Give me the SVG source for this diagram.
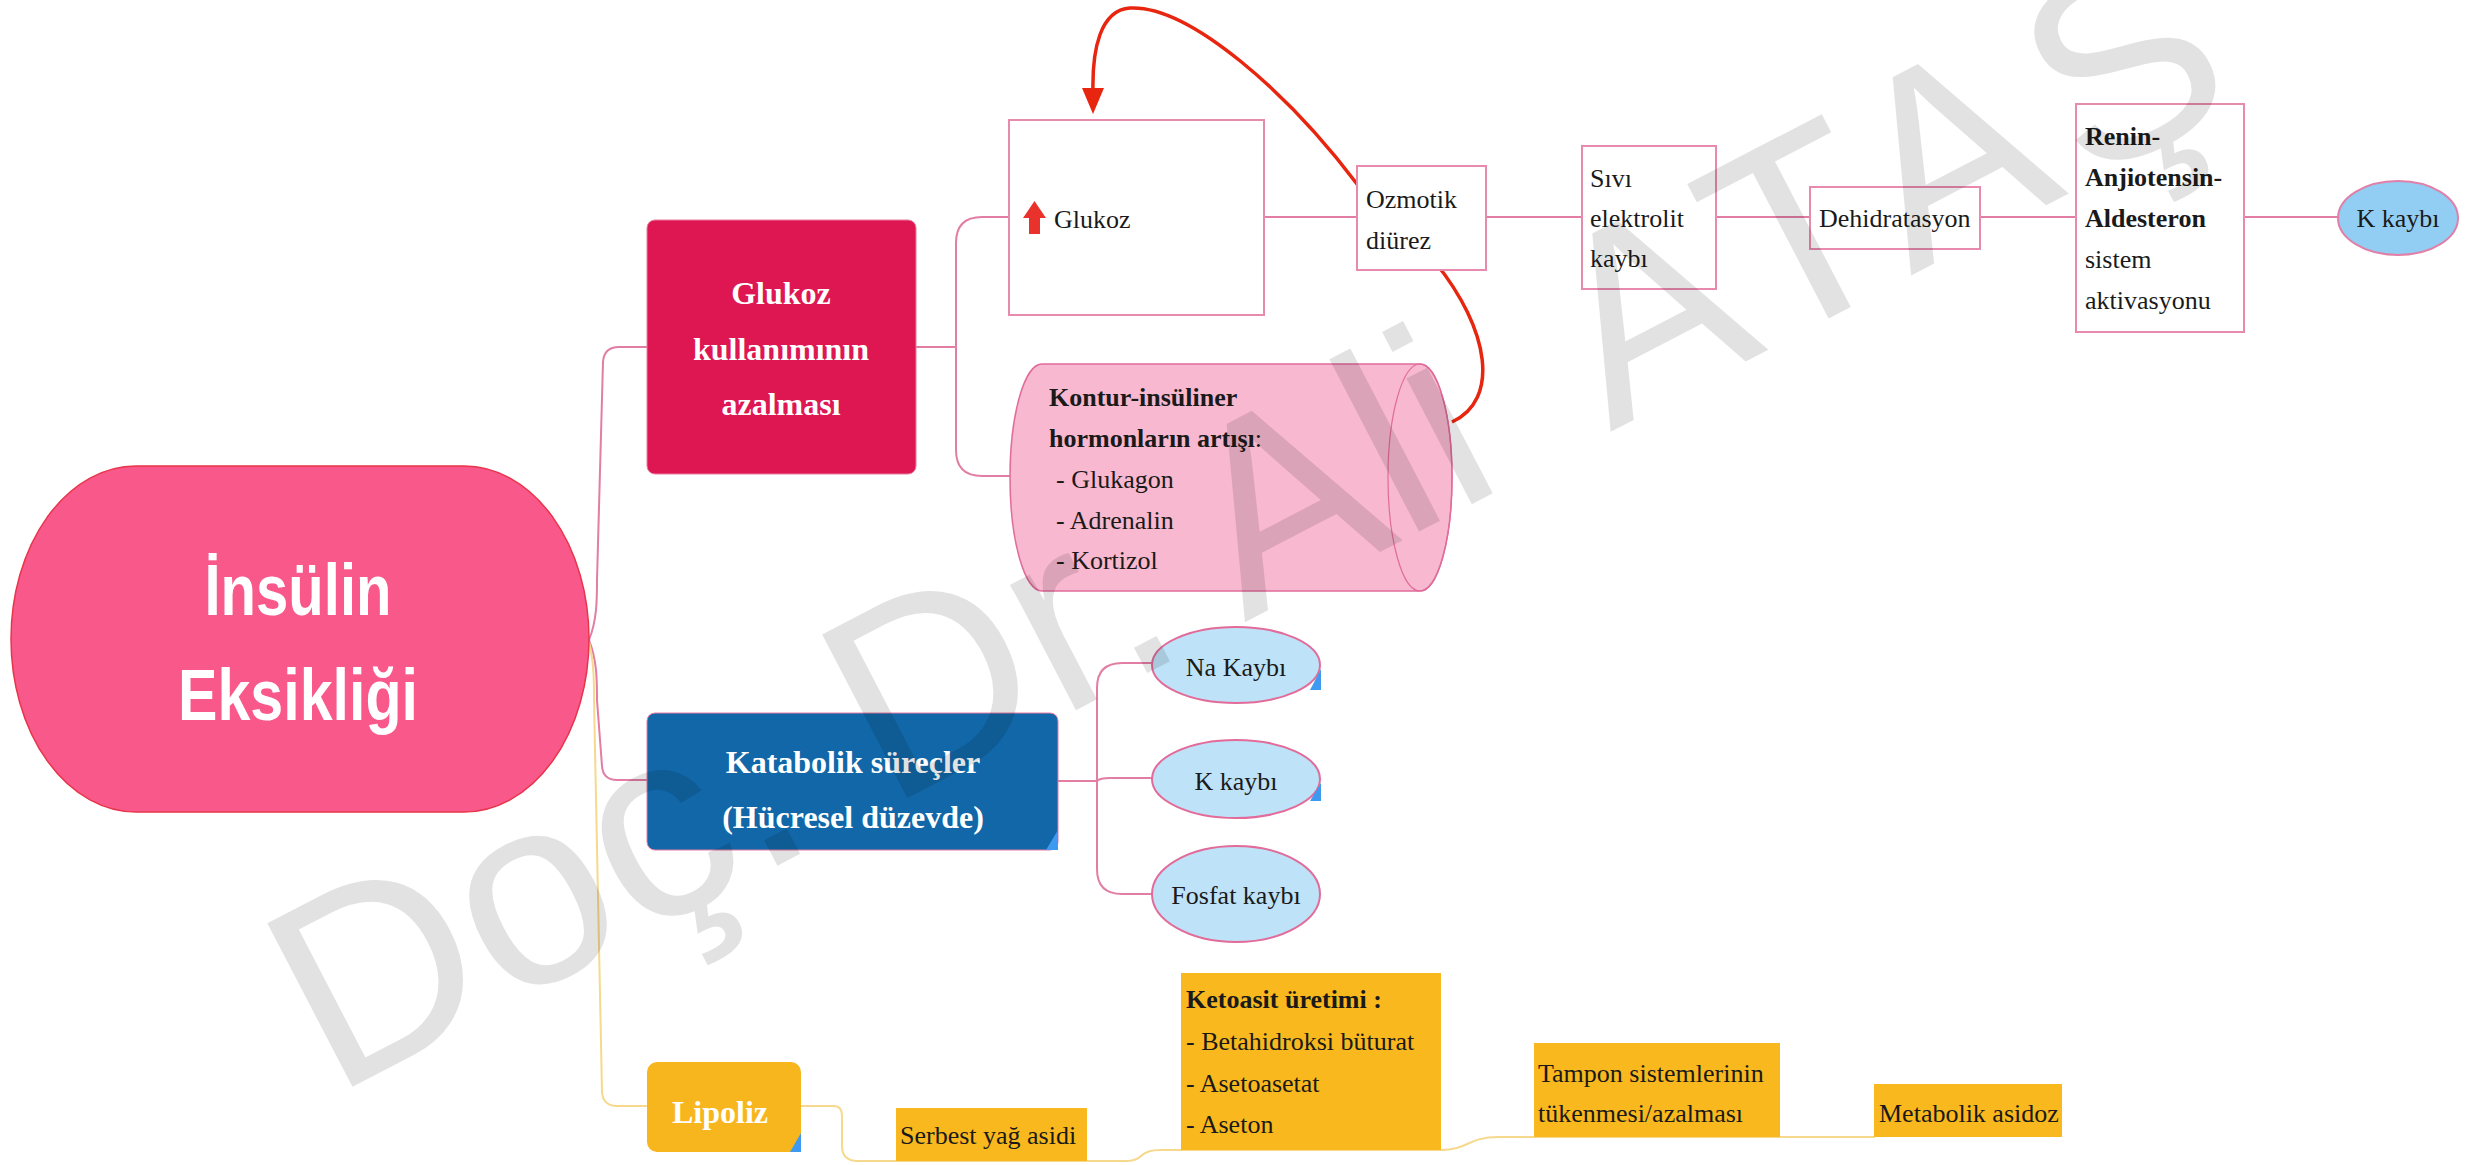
<svg xmlns="http://www.w3.org/2000/svg" width="2469" height="1165" viewBox="0 0 2469 1165">
<style>
.t{font-family:"Liberation Serif","Times New Roman",serif;font-size:26px;fill:#1a1a1a}
.b{font-weight:bold}
.w{fill:#ffffff;font-weight:bold}
.box{fill:#ffffff;stroke:#E889AE;stroke-width:2}
.pk{fill:none;stroke:#E27DA4;stroke-width:2}
.yl{fill:none;stroke:#F6D98C;stroke-width:2}
.yb{fill:#F9B81D}
.corner{fill:#3D9AF0}
</style>
<rect width="2469" height="1165" fill="#ffffff"/>
<g id="connectors">
<path class="pk" d="M589,640 C597,620 597,600 597,580 L603,362 Q604,347 619,347 L647,347"/>
<path class="pk" d="M589,640 C597,660 597,680 597,700 L602,766 Q603,780 617,780 L647,780"/>
<path class="yl" d="M589,642 C594,662 594,682 594,700 L602,1092 Q603,1106 617,1106 L647,1106"/>
<path class="pk" d="M916,347 L956,347 M956,347 L956,243 Q956,217 982,217 L1009,217 M956,347 L956,450 Q956,476 982,476 L1010,476"/>
<path class="pk" d="M1264,217 L1357,217 M1486,217 L1582,217 M1716,217 L1809,217 M1979,217 L2075,217 M2244,217 L2338,217"/>
<path class="pk" d="M1058,781 L1097,781 M1097,781 L1097,688 Q1097,663 1122,663 L1152,663 M1097,781 L1097,869 Q1097,894 1122,894 L1152,894 M1097,781 Q1100,778 1110,778 L1152,778"/>
<path class="yl" d="M801,1106 L834,1106 Q842,1106 842,1116 L842,1146 Q842,1161 858,1161 L1126,1161 Q1136,1161 1141,1156 Q1147,1150 1160,1150 L1441,1150 C1468,1150 1468,1137 1498,1137 L1875,1137"/>
<path d="M1452,422 C1500,400 1490,330 1435,262 L1357,184 C1290,95 1190,5 1130,8 C1100,10 1092,50 1093,92" fill="none" stroke="#E8250F" stroke-width="3.5"/>
<polygon points="1082,88 1104,88 1093,114" fill="#E8250F"/>
</g>
<g id="n-insulin">
<rect x="11" y="466" width="578" height="346" rx="125" ry="173" fill="#F9588B" stroke="#E8344A" stroke-width="1.5"/>
<text x="298" y="615" text-anchor="middle" font-family="Liberation Sans,Arial,sans-serif" font-weight="bold" font-size="72" fill="#ffffff" textLength="187" lengthAdjust="spacingAndGlyphs">İnsülin</text>
<text x="298" y="720" text-anchor="middle" font-family="Liberation Sans,Arial,sans-serif" font-weight="bold" font-size="72" fill="#ffffff" textLength="240" lengthAdjust="spacingAndGlyphs">Eksikliği</text>
</g>
<g id="n-glukoz-kullanim">
<rect x="647" y="220" width="269" height="254" rx="8" fill="#DE1752" stroke="#E87DA0" stroke-width="1"/>
<text class="t w" x="781" y="304" text-anchor="middle" style="font-size:32px">Glukoz</text>
<text class="t w" x="781" y="360" text-anchor="middle" style="font-size:32px">kullanımının</text>
<text class="t w" x="781" y="415" text-anchor="middle" style="font-size:32px">azalması</text>
</g>
<g id="n-glukoz">
<rect class="box" x="1009" y="120" width="255" height="195"/>
<polygon points="1023,218 1034.5,201 1046,218 1040,218 1040,234 1029,234 1029,218" fill="#E8322B"/>
<text class="t" x="1054" y="228">Glukoz</text>
</g>
<g id="n-kontur">
<path d="M1042,364 L1420,364 A32,113.5 0 0 1 1420,591 L1042,591 A32,113.5 0 0 1 1042,364 Z" fill="#F8B8CF" stroke="#E06C9A" stroke-width="1.5"/>
<ellipse cx="1420" cy="477.5" rx="32" ry="113.5" fill="none" stroke="#E06C9A" stroke-width="1.2"/>
<text class="t b" x="1049" y="406">Kontur-insüliner</text>
<text class="t" x="1049" y="447"><tspan class="b">hormonların artışı</tspan>:</text>
<text class="t" x="1056" y="488">- Glukagon</text>
<text class="t" x="1056" y="529">- Adrenalin</text>
<text class="t" x="1056" y="569">- Kortizol</text>
</g>
<g id="n-ozmotik">
<rect class="box" x="1357" y="166" width="129" height="104"/>
<text class="t" x="1366" y="208">Ozmotik</text>
<text class="t" x="1366" y="249">diürez</text>
</g>
<g id="n-sivi">
<rect class="box" x="1582" y="146" width="134" height="143"/>
<text class="t" x="1590" y="187">Sıvı</text>
<text class="t" x="1590" y="227">elektrolit</text>
<text class="t" x="1590" y="267">kaybı</text>
</g>
<g id="n-dehid">
<rect class="box" x="1810" y="187" width="170" height="62"/>
<text class="t" x="1819" y="227">Dehidratasyon</text>
</g>
<g id="n-renin">
<rect class="box" x="2076" y="104" width="168" height="228"/>
<text class="t b" x="2085" y="145">Renin-</text>
<text class="t b" x="2085" y="186">Anjiotensin-</text>
<text class="t b" x="2085" y="227">Aldesteron</text>
<text class="t" x="2085" y="268">sistem</text>
<text class="t" x="2085" y="309">aktivasyonu</text>
</g>
<g id="n-kkaybi-top">
<ellipse cx="2398" cy="218" rx="60" ry="37" fill="#92CEF3" stroke="#E080A8" stroke-width="2"/>
<text class="t" x="2398" y="227" text-anchor="middle">K kaybı</text>
</g>
<g id="n-katabolik">
<rect x="647" y="713" width="411" height="137" rx="8" fill="#1167A8" stroke="#E87DA0" stroke-width="1"/>
<polygon class="corner" points="1058,830 1058,850 1046,850"/>
<text class="t w" x="853" y="773" text-anchor="middle" style="font-size:32px">Katabolik süreçler</text>
<text class="t w" x="853" y="828" text-anchor="middle" style="font-size:32px">(Hücresel düzevde)</text>
</g>
<g id="n-na">
<ellipse cx="1236" cy="665" rx="84" ry="38" fill="#BEE2F7" stroke="#E26B9A" stroke-width="2"/>
<polygon class="corner" points="1321,669 1321,690 1310,690"/>
<text class="t" x="1236" y="676" text-anchor="middle">Na Kaybı</text>
</g>
<g id="n-k">
<ellipse cx="1236" cy="779" rx="84" ry="39" fill="#BEE2F7" stroke="#E26B9A" stroke-width="2"/>
<polygon class="corner" points="1321,783 1321,801 1310,801"/>
<text class="t" x="1236" y="790" text-anchor="middle">K kaybı</text>
</g>
<g id="n-fosfat">
<ellipse cx="1236" cy="894" rx="84" ry="48" fill="#BEE2F7" stroke="#E26B9A" stroke-width="2"/>
<text class="t" x="1236" y="904" text-anchor="middle">Fosfat kaybı</text>
</g>
<g id="n-lipoliz">
<rect x="647" y="1062" width="154" height="90" rx="10" fill="#F8B61E"/>
<polygon class="corner" points="801,1133 801,1152 790,1152"/>
<text class="t w" x="720" y="1123" text-anchor="middle" style="font-size:32px">Lipoliz</text>
</g>
<g id="n-serbest">
<rect class="yb" x="896" y="1108" width="191" height="53"/>
<text class="t" x="900" y="1144">Serbest yağ asidi</text>
</g>
<g id="n-ketoasit">
<rect class="yb" x="1181" y="973" width="260" height="177"/>
<text class="t b" x="1186" y="1008">Ketoasit üretimi :</text>
<text class="t" x="1186" y="1050">- Betahidroksi büturat</text>
<text class="t" x="1186" y="1092">- Asetoasetat</text>
<text class="t" x="1186" y="1133">- Aseton</text>
</g>
<g id="n-tampon">
<rect class="yb" x="1534" y="1043" width="246" height="94"/>
<text class="t" x="1538" y="1082">Tampon sistemlerinin</text>
<text class="t" x="1538" y="1122">tükenmesi/azalması</text>
</g>
<g id="n-metabolik">
<rect class="yb" x="1874" y="1084" width="188" height="53"/>
<text class="t" x="1879" y="1122">Metabolik asidoz</text>
</g>
<g id="watermark" opacity="0.11">
<text transform="translate(333,1097) rotate(-27.5)" font-family="Liberation Sans,Arial,sans-serif" font-size="268" fill="#000000">Doç. Dr. Ali <tspan dx="40" letter-spacing="18">ATAŞ</tspan></text>
</g>
</svg>
